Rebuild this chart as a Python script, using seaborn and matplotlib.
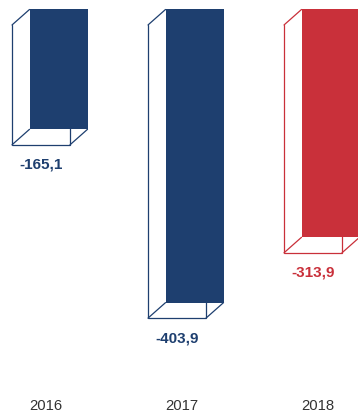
import matplotlib
matplotlib.use("Agg")
import matplotlib.pyplot as plt
import matplotlib.transforms as mtransforms
import seaborn as sns
import pandas as pd

# Annual result (negative balances)
years = ["2016", "2017", "2018"]
values = [-165.1, -403.9, -313.9]
bar_colors = ["#1e3f6f", "#1e3f6f", "#c9303a"]

sns.set_theme(style="white")
plt.rcParams["font.family"] = ["Liberation Sans", "DejaVu Sans"]

fig = plt.figure(figsize=(3.58, 4.14), dpi=100)
ax = fig.add_axes([0, 22 / 414, 1, 392 / 414])

df = pd.DataFrame({"year": years, "value": values})

# Coloured back faces of the boxes
sns.barplot(data=df, x="year", y="value", hue="year", palette=bar_colors,
            width=58 / 136, saturation=1, errorbar=None, legend=False,
            linewidth=0, zorder=3, ax=ax)

ax.set_xlim(-41 / 136, 317 / 136)
ax.set_ylim(-504.3, 35.8)

# depth of the pseudo-3D box, in inches
depth = mtransforms.ScaledTranslation(0.175, 0.155, fig.dpi_scale_trans)
back = ax.transData + depth
inv = ax.transData.inverted()


def to_back(x, y):
    return inv.transform(back.transform((x, y)))


patches = list(ax.patches)
for p in patches:
    p.set_transform(back)

for p, v in zip(patches, values):
    c = p.get_facecolor()
    x0 = p.get_x()
    x1 = x0 + p.get_width()
    y0 = p.get_y()
    y1 = y0 + p.get_height()
    # front face outline (left, bottom, right)
    ax.plot([x0, x0, x1, x1], [y0, y1, y1, y0], color=c, lw=0.9, zorder=2,
            solid_joinstyle="miter")
    # receding edges
    for (x, y) in [(x0, y0), (x0, y1), (x1, y1)]:
        bx, by = to_back(x, y)
        ax.plot([x, bx], [y, by], color=c, lw=0.9, zorder=2)
    ax.annotate(f"{v:.1f}".replace(".", ","), xy=((x0 + x1) / 2, v),
                xytext=(0, -19 * 0.72), textcoords="offset points",
                ha="center", va="center", fontsize=11, fontweight="bold",
                color=c)

ax.set_xlabel("")
ax.set_ylabel("")
ax.set_yticks([])
ax.tick_params(axis="x", length=0, pad=5, labelsize=10.7, labelcolor="#333333")
shift = mtransforms.ScaledTranslation(0.05, 0, fig.dpi_scale_trans)
for lbl in ax.get_xticklabels():
    lbl.set_transform(lbl.get_transform() + shift)
sns.despine(ax=ax, left=True, bottom=True, top=True, right=True)

fig.savefig("out.png", dpi=100, facecolor="white")
